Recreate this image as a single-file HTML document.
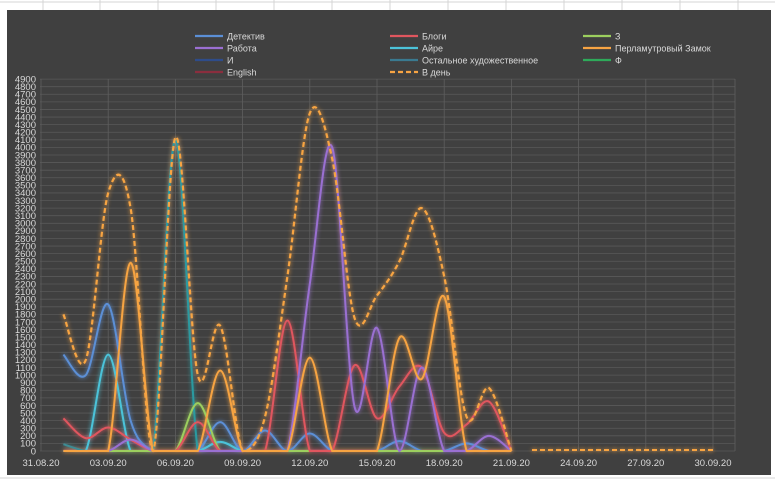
<!DOCTYPE html>
<html><head><meta charset="utf-8">
<style>
html,body{margin:0;padding:0;background:#fff;width:775px;height:480px;overflow:hidden}
svg{display:block;font-family:"Liberation Sans","DejaVu Sans",sans-serif}
</style></head>
<body>
<svg id="s" width="775" height="480" xmlns="http://www.w3.org/2000/svg">
<defs>
<filter id="glow" x="-10%" y="-10%" width="120%" height="120%">
<feGaussianBlur stdDeviation="2.2" result="b"/>
<feMerge><feMergeNode in="b"/><feMergeNode in="SourceGraphic"/></feMerge>
</filter>
</defs>
<g stroke="#d4d4d4" stroke-width="1">
<line x1="0" y1="2" x2="775" y2="2"/>
<line x1="0" y1="478" x2="775" y2="478"/>
<line x1="43" y1="0" x2="43" y2="10"/><line x1="100" y1="0" x2="100" y2="10"/><line x1="158" y1="0" x2="158" y2="10"/><line x1="216" y1="0" x2="216" y2="10"/><line x1="274" y1="0" x2="274" y2="10"/><line x1="332" y1="0" x2="332" y2="10"/><line x1="390" y1="0" x2="390" y2="10"/><line x1="448" y1="0" x2="448" y2="10"/><line x1="506" y1="0" x2="506" y2="10"/><line x1="564" y1="0" x2="564" y2="10"/><line x1="622" y1="0" x2="622" y2="10"/><line x1="680" y1="0" x2="680" y2="10"/><line x1="738" y1="0" x2="738" y2="10"/>
</g>
<rect x="7" y="10" width="764" height="465" fill="#404040"/>
<g id="grid"></g>
<g id="ylab" fill="#d9d9d9" font-size="9.5" text-anchor="end"></g>
<g id="xlab" fill="#d9d9d9" font-size="9.5" text-anchor="middle"></g>
<g id="series" fill="none" filter="url(#glow)"></g>
<g id="legend" font-size="9" fill="#d9d9d9"></g>
</svg>
<script>
var NS="http://www.w3.org/2000/svg";
function el(p,t,a,txt){var e=document.createElementNS(NS,t);for(var k in a)e.setAttribute(k,a[k]);if(txt!=null)e.textContent=txt;document.getElementById(p).appendChild(e);return e;}
function X(d){return 41+22.4*d;}
function Y(v){return 451-v*0.0759;}
for(var v=0;v<=4900;v+=100){el("grid","line",{x1:40,x2:735,y1:Y(v),y2:Y(v),stroke:"#595959","stroke-width":0.8});
 el("ylab","text",{x:36,y:Y(v)+3.3},String(v));}
for(var d=0;d<=31;d+=3){el("grid","line",{x1:X(d),x2:X(d),y1:79,y2:451,stroke:"#5e5e5e","stroke-width":0.8});}
el("grid","line",{x1:735,x2:735,y1:79,y2:451,stroke:"#5e5e5e","stroke-width":0.8});
var xl=["31.08.20","03.09.20","06.09.20","09.09.20","12.09.20","15.09.20","18.09.20","21.09.20","24.09.20","27.09.20","30.09.20"];
for(var i=0;i<xl.length;i++)el("xlab","text",{x:X(i*3),y:466},xl[i]);
function path(vals){
 var p=vals.map(function(a){return [X(a[0]),Y(a[1])];});
 var s="M"+p[0][0]+","+p[0][1];
 for(var i=0;i<p.length-1;i++){
  var p0=p[i-1]||p[i],p1=p[i],p2=p[i+1],p3=p[i+2]||p2;
  var c1x=p1[0]+(p2[0]-p0[0])/6,c1y=p1[1]+(p2[1]-p0[1])/6;
  var c2x=p2[0]-(p3[0]-p1[0])/6,c2y=p2[1]-(p3[1]-p1[1])/6;
  c1y=Math.min(c1y,451);c2y=Math.min(c2y,451);
  s+=" C"+c1x+","+c1y+" "+c2x+","+c2y+" "+p2[0]+","+p2[1];
 }
 return s;}
function ser(arr,color,w,dash){var a=[];for(var i=0;i<arr.length;i++)a.push([i+1,arr[i]]);
 var o={d:path(a),stroke:color,"stroke-width":w||2};if(dash)o["stroke-dasharray"]=dash;el("series","path",o);}
el("series","line",{x1:X(1),x2:X(21),y1:450.5,y2:450.5,stroke:"#d4607a","stroke-width":1.5});
ser([90,0,0,0,0,0,0,0,0,0,0,0,0,0,0,0,0,0,0,0,0],"#3c8c94",2);
ser([1270,1000,1930,400,0,0,0,380,0,270,0,230,0,0,0,130,0,0,100,0,0],"#5b8fd6",2);
ser([0,0,1270,0,0,0,0,120,0,0,0,0,0,0,0,0,0,0,0,0,0],"#4cc3d9",2);
ser([0,0,0,0,0,4100,0,0,0,0,0,0,0,0,0,0,0,0,0,0,0],"#2b9aa0",2);
ser([0,0,0,0,0,0,630,0,0,0,0,0,0,0,0,0,0,0,0,0,0],"#9ccf5e",2);
ser([430,170,310,150,0,0,380,0,0,0,1720,0,0,1130,430,850,1100,240,350,650,0],"#e0565e",2);
ser([0,0,0,150,0,0,0,0,0,0,0,2200,4000,580,1620,0,1100,0,0,200,0],"#9a6fd2",2);
ser([0,0,0,2480,0,0,0,1060,0,0,0,1230,0,0,0,1490,950,2030,0,0,0],"#f7a443",2);
ser([1800,1200,3400,3200,0,4130,1000,1650,0,450,2300,4450,3850,1750,2050,2500,3200,2300,450,830,0],"#f7a443",2.2,"5,3");
el("series","line",{x1:532,x2:716,y1:450,y2:450,stroke:"#f7a443","stroke-width":2,"stroke-dasharray":"5,3"});
var L=[[195,36,"Детектив","#5b8fd6"],[195,48,"Работа","#9a6fd2"],[195,60,"И","#2e4c8a"],[195,72,"English","#8a2e3e"],
[390,36,"Блоги","#e0565e"],[390,48,"Айре","#4cc3d9"],[390,60,"Остальное художественное","#3a7a90"],[390,72,"В день","#f7a443",1],
[583,36,"З","#9ccf5e"],[583,48,"Перламутровый Замок","#f7a443"],[583,60,"Ф","#2eaa5a"]];
L.forEach(function(l){var o={x1:l[0],x2:l[0]+28,y1:l[1],y2:l[1],stroke:l[3],"stroke-width":2.2};if(l[4])o["stroke-dasharray"]="5,3";
 el("legend","line",o);el("legend","text",{x:l[0]+32,y:l[1]+3.5},l[2]);});
</script>
</body></html>
